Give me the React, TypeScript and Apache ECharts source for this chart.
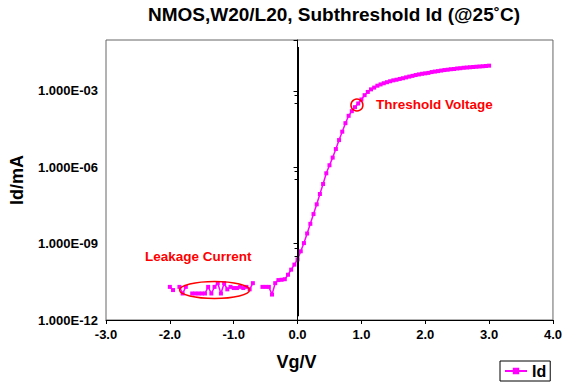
import React, { useEffect, useRef } from "react";
import * as echarts from "echarts";

const TITLE = "NMOS,W20/L20, Subthreshold Id (@25˚C)";
const X_NAME = "Vg/V";
const Y_NAME = "Id/mA";
const SERIES_NAME = "Id";
const X_MIN = -3;
const X_MAX = 4;
const X_INTERVAL = 1;
const Y_MIN = 1e-12;
const Y_MAX = 1e-1;

// Gate voltage (V)
const VG = [
  -2.0, -1.95, -1.9, -1.85, -1.8, -1.75, -1.7, -1.65, -1.6, -1.55,
  -1.5, -1.45, -1.4, -1.35, -1.3, -1.25, -1.2, -1.15, -1.1, -1.05,
  -1.0, -0.95, -0.9, -0.85, -0.8, -0.75, -0.7, -0.65, -0.6, -0.55,
  -0.5, -0.45, -0.4, -0.35, -0.3, -0.25, -0.2, -0.15, -0.1, -0.05,
  0.0, 0.05, 0.1, 0.15, 0.2, 0.25, 0.3, 0.35, 0.4, 0.45,
  0.5, 0.55, 0.6, 0.65, 0.7, 0.75, 0.8, 0.85, 0.9, 0.95,
  1.0, 1.05, 1.1, 1.15, 1.2, 1.25, 1.3, 1.35, 1.4, 1.45,
  1.5, 1.55, 1.6, 1.65, 1.7, 1.75, 1.8, 1.85, 1.9, 1.95,
  2.0, 2.05, 2.1, 2.15, 2.2, 2.25, 2.3, 2.35, 2.4, 2.45,
  2.5, 2.55, 2.6, 2.65, 2.7, 2.75, 2.8, 2.85, 2.9, 2.95,
  3.0,
];

// Drain current (mA); null = no reading
const ID: (number | null)[] = [
  2.0e-11, 1.5e-11, null, 2.0e-11, 1.1e-11, 2.0e-11, null, 1.1e-11, 1.1e-11, 1.1e-11,
  1.1e-11, 1.1e-11, 2.0e-11, 1.1e-11, 2.0e-11, 2.8e-11, 1.1e-11, 2.8e-11, 1.6e-11, 2.0e-11,
  1.8e-11, 1.8e-11, 2.0e-11, 1.8e-11, 2.0e-11, 1.6e-11, 2.8e-11, null, null, 2.0e-11,
  2.0e-11, 2.0e-11, 1.0e-11, 2.8e-11, 3.7e-11, 3.8e-11, 4.0e-11, 6.0e-11, 9.5e-11, 1.5e-10,
  2.4e-10, 5.0e-10, 1.05e-9, 2.5e-9, 6.0e-9, 1.45e-8, 3.5e-8, 8.9e-8, 2.2e-7, 5.8e-7,
  1.2e-6, 2.4e-6, 5.2e-6, 1.17e-5, 2.5e-5, 5.4e-5, 1.05e-4, 1.6e-4, 2.3e-4, 3.2e-4,
  4.6e-4, 6.8e-4, 9.1e-4, 1.15e-3, 1.35e-3, 1.6e-3, 1.8e-3, 2.0e-3, 2.2e-3, 2.4e-3,
  2.6e-3, 2.75e-3, 2.95e-3, 3.15e-3, 3.4e-3, 3.65e-3, 3.9e-3, 4.2e-3, 4.45e-3, 4.7e-3,
  4.9e-3, 5.1e-3, 5.5e-3, 5.75e-3, 6.0e-3, 6.3e-3, 6.6e-3, 6.8e-3, 7.1e-3, 7.25e-3,
  7.6e-3, 7.8e-3, 8.1e-3, 8.3e-3, 8.5e-3, 8.7e-3, 8.9e-3, 9.1e-3, 9.3e-3, 9.5e-3,
  9.8e-3,
];

// Vertical reference line at Vg = 0
const ZERO_LINE_X = 0;
const ZERO_LINE_Y = [1.4e-12, 5.3e-2];

// Annotations (data coordinates)
const THRESHOLD_POINT = [0.93, 2.8e-4];
const THRESHOLD_LABEL_POS = [1.23, 2.8e-4];
const THRESHOLD_LABEL = "Threshold Voltage";
const LEAKAGE_CENTER = [-1.3, 1.5e-11];
const LEAKAGE_LABEL_POS = [-2.39, 3.2e-10];
const LEAKAGE_LABEL = "Leakage Current";

const FONT = "'Liberation Sans', Arial, Helvetica, sans-serif";
const MAGENTA = "#FF00FF";
const RED = "#FF0000";

function fmtExp(v: number): string {
  const e = Math.round(Math.log10(v));
  const sign = e < 0 ? "-" : "+";
  return "1.000E" + sign + String(Math.abs(e)).padStart(2, "0");
}

export default function App() {
  const ref = useRef<HTMLDivElement>(null);

  useEffect(() => {
    document.body.style.margin = "0";
    if (!ref.current) return;
    const chart = echarts.init(ref.current, null, { renderer: "svg" });
    const data = VG.map((v, i) => [v, ID[i] == null ? "-" : ID[i]]);

    chart.setOption({
      animation: false,
      backgroundColor: "#fff",
      title: {
        text: TITLE,
        left: 334,
        top: 5,
        textAlign: "center",
        padding: 0,
        textStyle: { fontSize: 19, fontWeight: "bold", color: "#000", fontFamily: FONT },
      },
      grid: {
        left: 106,
        right: 9,
        top: 40,
        bottom: 62,
        show: true,
        borderColor: "#666",
        borderWidth: 1,
        backgroundColor: "#fff",
      },
      legend: {
        data: [SERIES_NAME],
        left: 500,
        top: 361,
        padding: [2, 4, 2, 4],
        borderColor: "#000",
        borderWidth: 1,
        backgroundColor: "#fff",
        itemWidth: 22,
        itemHeight: 8,
        itemGap: 0,
        textStyle: { fontSize: 16, fontWeight: "bold", color: "#000", fontFamily: FONT },
      },
      xAxis: {
        type: "value",
        min: X_MIN,
        max: X_MAX,
        interval: X_INTERVAL,
        name: X_NAME,
        nameLocation: "middle",
        nameGap: 33,
        nameTextStyle: {
          fontSize: 18,
          fontWeight: "bold",
          color: "#000",
          fontFamily: FONT,
          padding: [0, 66, 0, 0],
        },
        axisLine: { show: true, onZero: false, lineStyle: { color: "#000", width: 1 } },
        axisTick: { show: true, inside: false, length: 4, lineStyle: { color: "#000" } },
        axisLabel: {
          formatter: (v: number) => v.toFixed(1),
          fontSize: 13,
          fontWeight: "bold",
          color: "#000",
          fontFamily: FONT,
          margin: 8,
        },
        splitLine: { show: false },
      },
      yAxis: {
        type: "log",
        logBase: 1000,
        min: Y_MIN,
        max: Y_MAX,
        name: Y_NAME,
        nameLocation: "middle",
        nameGap: 80,
        nameTextStyle: { fontSize: 18, fontWeight: "bold", color: "#000", fontFamily: FONT },
        axisLine: { show: true, lineStyle: { color: "#000", width: 1 } },
        axisTick: { show: true, inside: false, length: 4, lineStyle: { color: "#000" } },
        minorTick: { show: true, splitNumber: 3, length: 3, lineStyle: { color: "#000" } },
        axisLabel: {
          formatter: (v: number) => fmtExp(v),
          showMaxLabel: false,
          fontSize: 13,
          fontWeight: "bold",
          color: "#000",
          fontFamily: FONT,
          margin: 8,
        },
        splitLine: { show: false },
        minorSplitLine: { show: false },
      },
      series: [
        {
          name: SERIES_NAME,
          type: "line",
          data,
          connectNulls: false,
          symbol: "rect",
          symbolSize: 4,
          itemStyle: { color: MAGENTA },
          lineStyle: { color: MAGENTA, width: 1.5 },
          markLine: {
            silent: true,
            symbol: ["none", "none"],
            label: { show: false },
            lineStyle: { color: "#000", width: 2, type: "solid" },
            data: [
              [
                { coord: [ZERO_LINE_X, ZERO_LINE_Y[1]] },
                { coord: [ZERO_LINE_X, ZERO_LINE_Y[0]] },
              ],
            ],
          },
        },
      ],
    });

    const toPx = (p: number[]) => chart.convertToPixel({ seriesIndex: 0 }, p) as number[];
    const th = toPx(THRESHOLD_POINT);
    const thL = toPx(THRESHOLD_LABEL_POS);
    const lk = toPx(LEAKAGE_CENTER);
    const lkL = toPx(LEAKAGE_LABEL_POS);

    chart.setOption({
      graphic: [
        {
          type: "circle",
          silent: true,
          z: 100,
          shape: { cx: th[0], cy: th[1], r: 6 },
          style: { fill: "none", stroke: RED, lineWidth: 1.5 },
        },
        {
          type: "text",
          silent: true,
          z: 100,
          x: thL[0],
          y: thL[1],
          style: {
            text: THRESHOLD_LABEL,
            fill: RED,
            font: `bold 13.5px ${FONT}`,
            align: "left",
            verticalAlign: "middle",
          },
        },
        {
          type: "ellipse",
          silent: true,
          z: 100,
          shape: { cx: lk[0], cy: lk[1], rx: 35, ry: 8.5 },
          style: { fill: "none", stroke: RED, lineWidth: 1.5 },
        },
        {
          type: "text",
          silent: true,
          z: 100,
          x: lkL[0],
          y: lkL[1],
          style: {
            text: LEAKAGE_LABEL,
            fill: RED,
            font: `bold 13.5px ${FONT}`,
            align: "left",
            verticalAlign: "middle",
          },
        },
      ],
    });

    return () => chart.dispose();
  }, []);

  return (
    <div
      ref={ref}
      style={{ position: "fixed", left: 0, top: 0, width: 565, height: 382, background: "#fff" }}
    />
  );
}
